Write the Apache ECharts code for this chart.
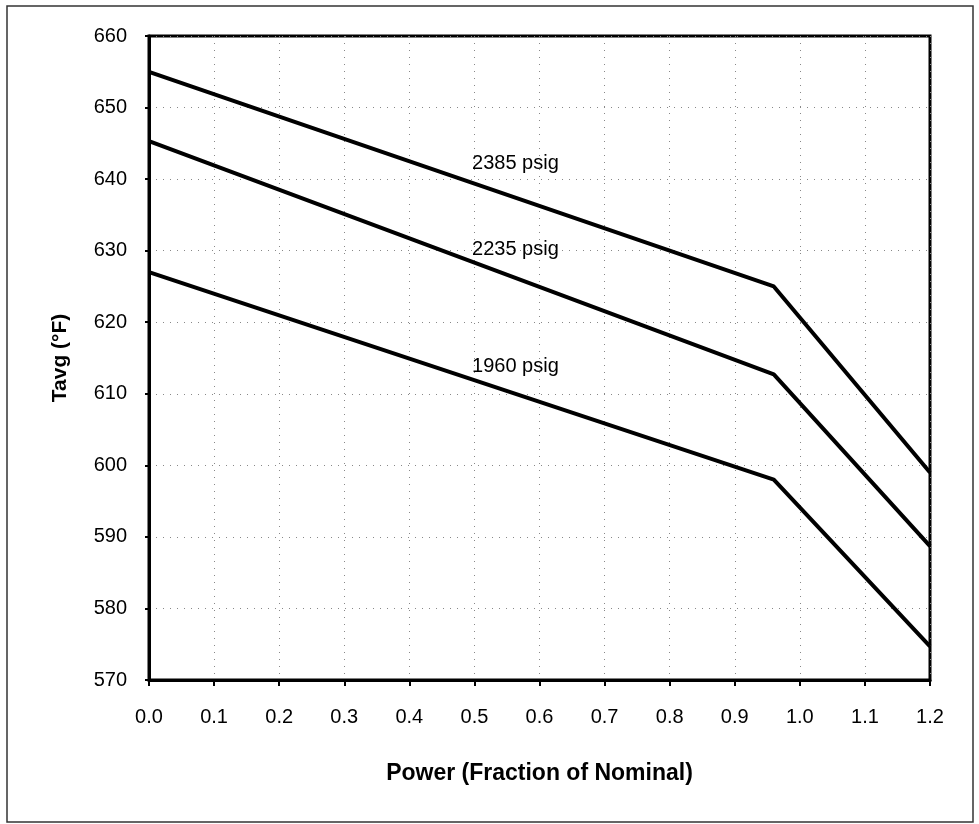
<!DOCTYPE html>
<html>
<head>
<meta charset="utf-8">
<style>
  html, body { margin: 0; padding: 0; background: #fff; }
  #chart { width: 979px; height: 824px; }
</style>
<script src="https://cdn.jsdelivr.net/npm/echarts@6/dist/echarts.min.js"></script>
</head>
<body>
<div id="chart"></div>
<script>
// power fraction at start, knee, end
var power = [0.0, 0.96, 1.2];
var tavg2385 = [655, 625, 599];
var tavg2235 = [645.3, 612.7, 588.7];
var tavg1960 = [627, 598, 574.7];

var curveLabels = ['2385 psig', '2235 psig', '1960 psig'];
var labelX = [0.563, 0.563, 0.563];
var labelY = [642.2, 630.1, 613.8];

var xTicks = ['0.0', '0.1', '0.2', '0.3', '0.4', '0.5', '0.6', '0.7', '0.8', '0.9', '1.0', '1.1', '1.2'];

function pairs(xs, ys) {
    return xs.map(function (x, i) { return [x, ys[i]]; });
}

var font = '"Liberation Sans", Arial, sans-serif';

var lineStyle = {
    width: 4,
    color: '#000'
};

var chart = echarts.init(document.getElementById('chart'));
chart.setOption({
    animation: false,
    backgroundColor: '#fff',
    textStyle: { fontFamily: font },
    graphic: [{
        type: 'rect',
        shape: { x: 7, y: 6, width: 966, height: 816 },
        style: { fill: 'none', stroke: '#333', lineWidth: 1.5 }
    }],
    grid: {
        left: 149,
        right: 49,
        top: 36,
        bottom: 144,
        show: true,
        borderColor: '#000',
        borderWidth: 3
    },
    xAxis: {
        type: 'value',
        min: 0,
        max: 1.2,
        interval: 0.1,
        name: 'Power (Fraction of Nominal)',
        nameLocation: 'middle',
        nameGap: 82,
        nameTextStyle: { fontSize: 23, fontWeight: 'bold', color: '#000', fontFamily: font },
        axisLine: { lineStyle: { color: '#000', width: 3 } },
        axisTick: { show: true, length: 6, lineStyle: { color: '#000', width: 2 } },
        axisLabel: {
            fontSize: 20,
            color: '#000',
            margin: 27,
            formatter: function (v) {
                var i = Math.round(v * 10);
                return xTicks[i] !== undefined ? xTicks[i] : '';
            }
        },
        splitLine: { show: true, lineStyle: { color: '#888', width: 1, type: [1, 6] } }
    },
    yAxis: {
        type: 'value',
        min: 570,
        max: 660,
        interval: 10,
        name: 'Tavg (°F)',
        nameLocation: 'middle',
        nameGap: 78,
        nameTextStyle: { fontSize: 21, fontWeight: 'bold', color: '#000', fontFamily: font },
        axisLine: { show: true, lineStyle: { color: '#000', width: 3 } },
        axisTick: { show: true, length: 4, lineStyle: { color: '#000', width: 2 } },
        axisLabel: { fontSize: 20, color: '#000', margin: 22 },
        splitLine: { show: true, lineStyle: { color: '#888', width: 1, type: [1, 6] } }
    },
    series: [{
        name: '2385 psig',
        type: 'line',
        showSymbol: false,
        lineStyle: lineStyle,
        data: pairs(power, tavg2385)
    }, {
        name: '2235 psig',
        type: 'line',
        showSymbol: false,
        lineStyle: lineStyle,
        data: pairs(power, tavg2235)
    }, {
        name: '1960 psig',
        type: 'line',
        showSymbol: false,
        lineStyle: lineStyle,
        data: pairs(power, tavg1960)
    }, {
        type: 'scatter',
        symbolSize: 1,
        itemStyle: { opacity: 0 },
        silent: true,
        label: {
            show: true,
            position: 'inside',
            fontSize: 20,
            color: '#000',
            opacity: 1,
            textBorderWidth: 0,
            formatter: function (p) { return curveLabels[p.dataIndex]; }
        },
        data: pairs(labelX, labelY)
    }]
});
</script>
</body>
</html>
